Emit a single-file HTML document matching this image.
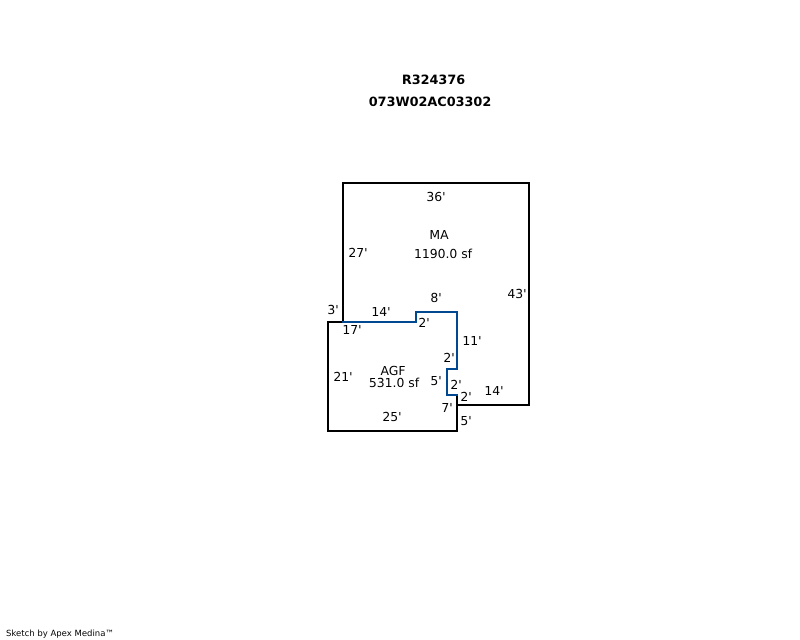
<!DOCTYPE html>
<html>
<head>
<meta charset="utf-8">
<style>
html,body{margin:0;padding:0;background:#fff;width:800px;height:640px;overflow:hidden}
svg{display:block}
text{font-family:"DejaVu Sans","Liberation Sans",sans-serif;font-size:12.4px;fill:#000;text-rendering:geometricPrecision}
.b{font-weight:bold;font-size:12.8px;text-anchor:middle}
.m{text-anchor:middle}
.s{font-size:8.5px}
</style>
</head>
<body>
<svg width="800" height="640" viewBox="0 0 800 640" xmlns="http://www.w3.org/2000/svg">
<g fill="none" stroke-width="2" stroke-linecap="square" shape-rendering="crispEdges">
<path d="M343 322V183H529V405H457" stroke="#000"/>
<path d="M343 322H328V431H457V395" stroke="#000"/>
<path d="M343 322H416V312H457V369H447V395H457" stroke="#004990"/>
</g>
<text class="b" x="433.500" y="84">R324376</text>
<text class="b" x="430" y="106">073W02AC03302</text>
<g transform="translate(0,-1)">
<text class="m" x="436" y="202">36'</text>
<text class="m" x="439" y="240">MA</text>
<text class="m" x="443" y="259">1190.0 sf</text>
<text class="m" x="358" y="258">27'</text>
<text class="m" x="517" y="299">43'</text>
<text class="m" x="333" y="315">3'</text>
<text class="m" x="381" y="317">14'</text>
<text class="m" x="436" y="303">8'</text>
<text class="m" x="352" y="335">17'</text>
<text class="m" x="424" y="328">2'</text>
<text class="m" x="472" y="346">11'</text>
<text class="m" x="449" y="363">2'</text>
<text class="m" x="393" y="376">AGF</text>
<text class="m" x="394" y="388">531.0 sf</text>
<text class="m" x="343" y="382">21'</text>
<text class="m" x="436" y="386">5'</text>
<text class="m" x="456" y="390">2'</text>
<text class="m" x="466" y="402">2'</text>
<text class="m" x="494" y="396">14'</text>
<text class="m" x="447" y="413">7'</text>
<text class="m" x="392" y="422">25'</text>
<text class="m" x="466" y="426">5'</text>
</g>
<text class="s" x="6" y="636">Sketch by Apex Medina™</text>
</svg>
</body>
</html>
